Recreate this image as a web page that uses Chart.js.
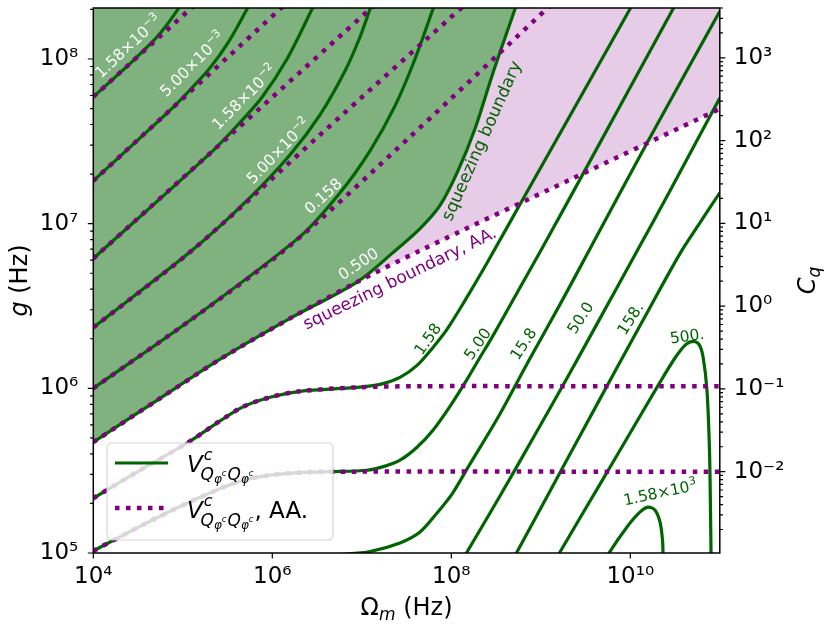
<!DOCTYPE html>
<html><head><meta charset="utf-8">
<script src="https://cdn.jsdelivr.net/npm/chart.js@4.4.1/dist/chart.umd.min.js"></script>
<style>html,body{margin:0;padding:0;background:#fff;overflow:hidden}#c{display:block}</style>
</head><body>
<canvas id="c" width="830" height="626" style="width:830px;height:626px"></canvas>
<script>
// ---------- axes ----------
const xRange = [1e4, 1e11];
const gRange = [1e5, 2.04e8];
const cqRange = [1.04e-3, 4.0e3];
const xTickValues = [1e4, 1e6, 1e8, 1e10];
const xTickLabels = ['10⁴', '10⁶', '10⁸', '10¹⁰'];
const gTickValues = [1e5, 1e6, 1e7, 1e8];
const gTickLabels = ['10⁵', '10⁶', '10⁷', '10⁸'];
const cqTickValues = [1e-2, 1e-1, 1e0, 1e1, 1e2, 1e3];
const cqTickLabels = ['10⁻²', '10⁻¹', '10⁰', '10¹', '10²', '10³'];

// ---------- contours of V (exact), [Omega_m, g] ----------
const v_1p58em3 = [[1e4,5.89e7],[2.78e4,9.74e7],[3.71e4,1.136e8],[4.95e4,1.33e8],[6.62e4,1.61e8],[8.84e4,2.01e8],[1.03e5,2.28e8]];
const v_5p00em3 = [[1e4,1.82e7],[7.58e4,5.01e7],[1.227e5,6.56e7],[1.988e5,8.75e7],[3.22e5,1.262e8],[5.22e5,2.01e8],[5.89e5,2.28e8]];
const v_1p58em2 = [[1e4,6.14e6],[2.12e5,2.74e7],[4.03e5,3.93e7],[7.67e5,5.86e7],[1.46e6,9.99e7],[2.78e6,2.01e8],[3.08e6,2.28e8]];
const v_5p00em2 = [[1e4,2.34e6],[1.30e5,6.96e6],[5.63e5,1.44e7],[1.58e6,2.62e7],[3.41e6,4.58e7],[6.49e6,8.46e7],[9.55e6,1.36e8],[1.235e7,2.01e8],[1.33e7,2.28e8]];
const v_0p158 = [[1e4,1.00e6],[1.20e5,2.58e6],[2.04e6,8.34e6],[5.71e6,1.54e7],[1.235e7,2.77e7],[2.35e7,5.19e7],[3.93e7,1.00e8],[6.24e7,2.01e8],[6.75e7,2.28e8]];
const v_0p500 = [[1e4,4.71e5],[5.15e4,8.46e5],[2.81e5,1.54e6],[1.58e6,2.66e6],[8.84e6,4.42e6],[2.23e7,6.67e6],[4.47e7,9.33e6],[7.48e7,1.29e7],[1.19e8,2.10e7],[1.84e8,3.77e7],[2.92e8,8.23e7],[5.15e8,2.01e8],[5.56e8,2.28e8]];
const v_1p58 = [[1e4,2.15e5],[3.32e4,3.18e5],[1.11e5,4.64e5],[4.36e5,7.56e5],[9.43e5,8.82e5],[2.04e6,9.59e5],[8.84e6,1.014e6],[1.60e7,1.057e6],[2.67e7,1.166e6],[4.14e7,1.378e6],[6.24e7,1.772e6],[8.95e7,2.28e6],[1.42e8,3.41e6],[2.38e8,5.49e6],[6.17e8,1.378e7],[9.92e9,2.01e8],[1.11e10,2.28e8]];
const v_5p00 = [[1e4,1.03e5],[4.30e4,1.56e5],[1.56e5,2.18e5],[4.36e5,2.73e5],[9.43e5,2.97e5],[2.64e6,3.10e5],[4.77e6,3.12e5],[1.14e7,3.18e5],[1.82e7,3.37e5],[2.67e7,3.66e5],[4.14e7,4.39e5],[6.24e7,5.57e5],[9.67e7,7.78e5],[1.50e8,1.134e6],[2.09e8,1.54e6],[2.85e8,2.04e6],[5.15e8,3.61e6],[1.06e9,7.26e6],[3.28e9,2.22e7],[3.00e10,2.01e8],[3.41e10,2.28e8]];
const v_15p8 = [[2.64e6,9.52e4],[5.71e6,9.79e4],[1.235e7,1.021e5],[2.67e7,1.15e5],[4.47e7,1.34e5],[6.92e7,1.75e5],[1.018e8,2.28e5],[1.54e8,3.32e5],[3.33e8,6.67e5],[7.38e8,1.48e6],[1.73e9,3.41e6],[3.46e9,6.86e6],[1.58e10,3.18e7],[1e11,1.95e8],[1.06e11,2.07e8]];
const v_50p0 = [[1.32e8,8.94e4],[1.50e8,1.014e5],[3.50e8,2.22e5],[8.18e8,4.98e5],[1.96e9,1.15e6],[4.59e9,2.66e6],[1.07e10,6.14e6],[2.78e10,1.585e7],[1e11,5.80e7],[1.09e11,6.31e7]];
const v_158 = [[4.77e8,8.94e4],[5.42e8,1.014e5],[1.27e9,2.38e5],[2.96e9,5.57e5],[6.92e9,1.30e6],[1.66e10,3.10e6],[3.59e10,6.58e6],[6.01e10,1.014e7],[1e11,1.54e7],[1.09e11,1.65e7]];
const v_500 = [[1.48e9,9.07e4],[1.64e9,1.014e5],[4.59e9,2.62e5],[1.07e10,5.72e5],[2.15e10,1.09e6],[3.24e10,1.56e6],[4.19e10,1.85e6],[5.02e10,1.93e6],[5.86e10,1.85e6],[6.49e10,1.56e6],[7.19e10,9.72e5],[7.67e10,4.21e5],[7.87e10,1.82e5],[7.98e10,1.0e5],[8.02e10,8.82e4]];
const v_1p58e3 = [[5.35e9,9.07e4],[5.78e9,1.0e5],[9.19e9,1.44e5],[1.28e10,1.77e5],[1.58e10,1.90e5],[1.89e10,1.82e5],[2.15e10,1.54e5],[2.29e10,1.20e5],[2.32e10,1.0e5],[2.33e10,9.07e4]];

// ---------- contours of V, AA. ----------
const aa_1p58em3 = [[1e4,5.89e7],[1.56e5,2.28e8]];
const aa_5p00em3 = [[1e4,1.82e7],[1.57e6,2.28e8]];
const aa_1p58em2 = [[1e4,6.14e6],[1.60e7,2.28e8]];
const aa_5p00em2 = [[1e4,2.34e6],[1.30e5,6.96e6],[3.41e6,3.46e7],[1.62e8,2.28e8]];
const aa_0p158 = [[1e4,1.00e6],[1.20e5,2.58e6],[1.58e6,7.36e6],[3.46e7,3.37e7],[1.48e9,2.28e8]];
const aa_0p500 = [[1e4,4.71e5],[5.15e4,8.46e5],[2.81e5,1.54e6],[1.58e6,2.66e6],[8.84e6,4.42e6],[4.47e7,6.86e6],[2.12e9,1.85e7],[1e11,4.98e7]];
const aa_1p58 = [[1e4,2.15e5],[3.32e4,3.18e5],[1.11e5,4.64e5],[4.36e5,7.56e5],[9.43e5,8.82e5],[2.04e6,9.59e5],[8.84e6,1.014e6],[4.47e7,1.03e6],[2.12e9,1.03e6],[1e11,1.03e6]];
const aa_5p00 = [[1e4,1.03e5],[4.30e4,1.56e5],[1.56e5,2.18e5],[4.36e5,2.73e5],[9.43e5,2.97e5],[2.64e6,3.10e5],[9.55e6,3.12e5],[2.12e9,3.12e5],[1e11,3.12e5]];

// ---------- contour labels ----------
const contourLabels = [
  {t:'1.58×10', s:'−3', x:2.44e4, y:1.20e8, a:-43, c:'#ffffff'},
  {t:'5.00×10', s:'−3', x:1.27e5, y:9.33e7, a:-45, c:'#ffffff'},
  {t:'1.58×10', s:'−2', x:4.83e5, y:5.89e7, a:-45, c:'#ffffff'},
  {t:'5.00×10', s:'−2', x:1.16e6, y:2.77e7, a:-46, c:'#ffffff'},
  {t:'0.158', x:3.68e6, y:1.48e7, a:-42, c:'#ffffff'},
  {t:'0.500', x:9.08e6, y:5.73e6, a:-34, c:'#ffffff'},
  {t:'1.58', x:5.40e7, y:2.00e6, a:-55, c:'#006400'},
  {t:'5.00', x:1.94e8, y:1.87e6, a:-55, c:'#006400'},
  {t:'15.8', x:6.32e8, y:1.87e6, a:-57, c:'#006400'},
  {t:'50.0', x:2.74e9, y:2.69e6, a:-57, c:'#006400'},
  {t:'158.', x:9.93e9, y:2.66e6, a:-57, c:'#006400'},
  {t:'500.', x:4.30e10, y:2.09e6, a:-8, c:'#006400'},
  {t:'1.58×10', s:'3', x:2.15e10, y:2.34e5, a:-12, c:'#006400'}
];
const boundaryLabels = [
  {t:'squeezing boundary', x:2.20e8, y:3.18e7, a:-66, c:'#006400'},
  {t:'squeezing boundary, AA.', x:2.67e7, y:4.64e6, a:-26, c:'#800080'}
];

// ---------- styles ----------
const GREEN = '#006400', PURPLE = '#800080';
const GREEN_FILL = '#80b280', PINK_FILL = '#e6cce6';
const FONT = '"DejaVu Sans"';
const F = (s) => s + 'px ' + FONT;
const FI = (s) => 'italic ' + s + 'px ' + FONT;

const pts = (a) => a.map(p => ({x: p[0], y: p[1]}));
const exactCurves = [v_1p58em3, v_5p00em3, v_1p58em2, v_5p00em2, v_0p158, v_0p500, v_1p58, v_5p00, v_15p8, v_50p0, v_158, v_500, v_1p58e3];
const aaCurves = [aa_1p58em3, aa_5p00em3, aa_1p58em2, aa_5p00em2, aa_0p158, aa_0p500, aa_1p58, aa_5p00];

const datasets = [];
datasets.push({data: pts(aa_0p500), fill: 'end', backgroundColor: PINK_FILL, borderColor: 'rgba(0,0,0,0)', borderWidth: 0, pointRadius: 0, order: 10, tension: 0.3, clip: 0});
datasets.push({data: pts(v_0p500), fill: 'end', backgroundColor: GREEN_FILL, borderColor: 'rgba(0,0,0,0)', borderWidth: 0, pointRadius: 0, order: 9, tension: 0.3, clip: 0});
exactCurves.forEach(a => datasets.push({data: pts(a), borderColor: GREEN, borderWidth: 3.2, pointRadius: 0, fill: false, order: 2, tension: 0.3, clip: 0}));
aaCurves.forEach(a => datasets.push({data: pts(a), borderColor: PURPLE, borderWidth: 4.5, borderDash: [4.5, 6.5], borderCapStyle: 'butt', pointRadius: 0, fill: false, order: 1, tension: 0.3, clip: 0}));

function rich(ctx, segs, x, y, opt) {
  ctx.save();
  ctx.translate(x, y);
  if (opt.angle) ctx.rotate(opt.angle * Math.PI / 180);
  ctx.fillStyle = opt.color || '#000';
  ctx.textBaseline = 'alphabetic';
  ctx.textAlign = 'left';
  let w = 0;
  for (const s of segs) { ctx.font = s.f; s._w = ctx.measureText(s.t).width; w += s._w + (s.dx || 0); }
  let px = opt.align === 'left' ? 0 : -w / 2;
  const base = opt.base || 0;
  for (const s of segs) { ctx.font = s.f; px += (s.dx || 0); ctx.fillText(s.t, px, base + (s.dy || 0)); px += s._w; }
  ctx.restore();
}

function vSymbol(extra) {
  const segs = [
    {t:'V', f:FI(23)},
    {t:'c', f:FI(16), dy:-12, dx:1},
    {t:'Q', f:FI(17), dy:8, dx:-12},
    {t:'φ', f:FI(12), dy:11},
    {t:'c', f:FI(8.5), dy:4},
    {t:'Q', f:FI(17), dy:8, dx:1},
    {t:'φ', f:FI(12), dy:11},
    {t:'c', f:FI(8.5), dy:4}
  ];
  if (extra) segs.push({t:extra, f:F(23), dx:1});
  return segs;
}

const decor = {
  id: 'decor',
  beforeDraw(chart) {
    const c = chart.ctx; c.save(); c.fillStyle = '#fff'; c.fillRect(0, 0, chart.width, chart.height); c.restore();
  },
  afterDatasetsDraw(chart) {
    const ctx = chart.ctx, a = chart.chartArea, sx = chart.scales.x, sy = chart.scales.y, s2 = chart.scales.y2;
    // contour labels
    contourLabels.forEach(L => {
      const segs = [{t:L.t, f:F(15.5)}];
      if (L.s) segs.push({t:L.s, f:F(11), dy:-6.5, dx:0.5});
      rich(ctx, segs, sx.getPixelForValue(L.x), sy.getPixelForValue(L.y), {angle:L.a, color:L.c, base:5.6});
    });
    boundaryLabels.forEach(L => {
      rich(ctx, [{t:L.t, f:F(17)}], sx.getPixelForValue(L.x), sy.getPixelForValue(L.y), {angle:L.a, color:L.c, base:5});
    });
    // legend
    ctx.save();
    const bx = 107, by = 443, bw = 226, bh = 97, r = 5;
    ctx.beginPath();
    ctx.moveTo(bx + r, by); ctx.lineTo(bx + bw - r, by); ctx.quadraticCurveTo(bx + bw, by, bx + bw, by + r);
    ctx.lineTo(bx + bw, by + bh - r); ctx.quadraticCurveTo(bx + bw, by + bh, bx + bw - r, by + bh);
    ctx.lineTo(bx + r, by + bh); ctx.quadraticCurveTo(bx, by + bh, bx, by + bh - r);
    ctx.lineTo(bx, by + r); ctx.quadraticCurveTo(bx, by, bx + r, by); ctx.closePath();
    ctx.fillStyle = 'rgba(255,255,255,0.8)'; ctx.fill();
    ctx.strokeStyle = 'rgba(204,204,204,0.8)'; ctx.lineWidth = 1.2; ctx.stroke();
    ctx.beginPath(); ctx.strokeStyle = GREEN; ctx.lineWidth = 3.2; ctx.moveTo(115, 463); ctx.lineTo(168, 463); ctx.stroke();
    ctx.beginPath(); ctx.strokeStyle = PURPLE; ctx.lineWidth = 4.5; ctx.setLineDash([4.5, 6.5]); ctx.lineCap = 'butt';
    ctx.moveTo(115, 508); ctx.lineTo(168, 508); ctx.stroke(); ctx.setLineDash([]);
    ctx.restore();
    rich(ctx, vSymbol(), 187, 472, {align:'left'});
    rich(ctx, vSymbol(', AA.'), 187, 518, {align:'left'});
    // frame
    ctx.save();
    ctx.strokeStyle = '#000'; ctx.lineWidth = 1.5;
    ctx.strokeRect(a.left, a.top, a.right - a.left, a.bottom - a.top);
    // ticks
    ctx.beginPath(); ctx.lineWidth = 1.2;
    xTickValues.forEach(v => { const x = sx.getPixelForValue(v); ctx.moveTo(x, a.bottom); ctx.lineTo(x, a.bottom + 5.5); });
    for (let d = 5; d <= 8; d++) for (let m = 1; m <= 9; m++) {
      const v = m * Math.pow(10, d); if (v < gRange[0] || v > gRange[1]) continue;
      const y = sy.getPixelForValue(v); const len = m === 1 ? 5.5 : 3.2;
      ctx.moveTo(a.left, y); ctx.lineTo(a.left - len, y);
    }
    for (let d = -3; d <= 3; d++) for (let m = 1; m <= 9; m++) {
      const v = m * Math.pow(10, d); if (v < cqRange[0] || v > cqRange[1]) continue;
      const y = s2.getPixelForValue(v); const len = m === 1 ? 5.5 : 3.2;
      ctx.moveTo(a.right, y); ctx.lineTo(a.right + len, y);
    }
    ctx.stroke();
    ctx.restore();
    // axis titles
    rich(ctx, [{t:'Ω', f:F(24)}, {t:'m', f:FI(17), dy:5}, {t:' (Hz)', f:F(24)}], (a.left + a.right) / 2, 615, {});
    rich(ctx, [{t:'g', f:FI(24)}, {t:' (Hz)', f:F(24)}], 27, (a.top + a.bottom) / 2, {angle:-90});
    rich(ctx, [{t:'C', f:FI(24)}, {t:'q', f:FI(17), dy:5}], 815, (a.top + a.bottom) / 2, {angle:-90});
  }
};

function logAxis(pos, range, vals, labels, fit, pad) {
  return {
    type: 'logarithmic', position: pos, min: range[0], max: range[1],
    afterBuildTicks: s => { s.ticks = vals.map(v => ({value: v})); },
    afterFit: s => { fit(s); s.paddingTop = 0; s.paddingBottom = 0; s.paddingLeft = 0; s.paddingRight = 0; },
    grid: {display: false, drawTicks: false}, border: {display: false},
    ticks: {autoSkip: false, maxRotation: 0, minRotation: 0, padding: pad, color: '#000',
      font: {size: 23, family: 'DejaVu Sans'}, callback: (v, i) => labels[i]}
  };
}

Chart.defaults.font.family = 'DejaVu Sans';
new Chart(document.getElementById('c'), {
  type: 'line',
  data: {datasets},
  options: {
    responsive: false, animation: false, events: [],
    layout: {padding: {top: 8, left: 0, right: 0, bottom: 0}},
    elements: {line: {capBezierPoints: false}},
    plugins: {legend: {display: false}, tooltip: {enabled: false}},
    scales: {
      x: logAxis('bottom', xRange, xTickValues, xTickLabels, s => { s.height = 73; }, 10),
      y: logAxis('left', gRange, gTickValues, gTickLabels, s => { s.width = 93.3; }, 15),
      y2: logAxis('right', cqRange, cqTickValues, cqTickLabels, s => { s.width = 110.2; }, 14)
    }
  },
  plugins: [decor]
});
</script></body></html>
